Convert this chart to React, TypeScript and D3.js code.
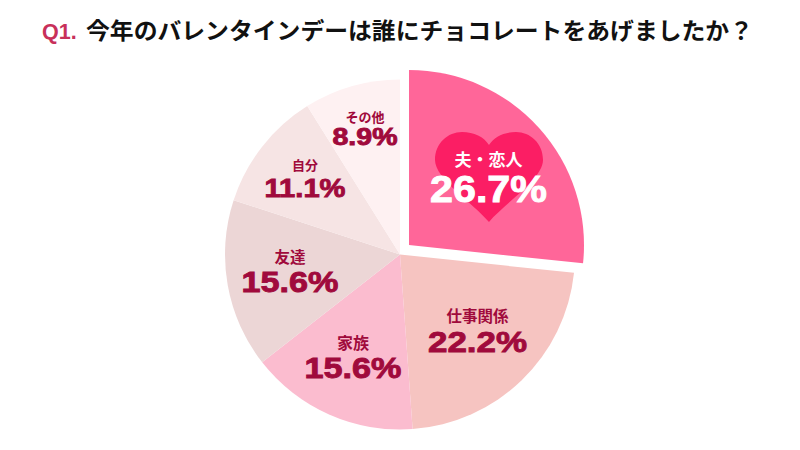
import { useMemo } from 'react';
import * as d3 from 'd3';

const categories = ['夫・恋人', '仕事関係', '家族', '友達', '自分', 'その他'];
const shares = [26.7, 22.2, 15.6, 15.6, 11.1, 8.9];
const sliceColors = ['#ff6699', '#f6c4c1', '#fbbccf', '#ecd6d6', '#f6e4e4', '#fef1f2'];

const numberFont = '"Liberation Sans", sans-serif';
const jpFont = '"Noto Sans CJK JP", sans-serif';
const labelColor = '#a00a3c';
const radius = 175;
const center = { x: 400, y: 254.5 };
const explode = { x: 9, y: -9.5 };

// label layout relative to the pie centre: x centre, name baseline, value baseline
const labelLayout = [
  { dx: 88.5, nameY: -89, valueY: -53, nameSize: 17, valueSize: 37, valueWidth: 117 },
  { dx: 77.5, nameY: 67, valueY: 97, nameSize: 15.5, valueSize: 30, valueWidth: 99 },
  { dx: -47, nameY: 94, valueY: 123.5, nameSize: 16, valueSize: 30, valueWidth: 97 },
  { dx: -110, nameY: 8, valueY: 37, nameSize: 15.5, valueSize: 30, valueWidth: 97 },
  { dx: -95, nameY: -85, valueY: -58, nameSize: 13, valueSize: 25, valueWidth: 81 },
  { dx: -35, nameY: -133, valueY: -109.5, nameSize: 13, valueSize: 24, valueWidth: 65 },
];

const App = () => {
  const arcs = useMemo(() => d3.pie<number>().sort(null)(shares), []);
  const arc = d3.arc<d3.PieArcDatum<number>>().innerRadius(0).outerRadius(radius);

  return (
    <svg
      width={800}
      height={450}
      viewBox="0 0 800 450"
      style={{ position: 'absolute', left: 0, top: 0, background: '#fff' }}
    >
      <text x={42} y={38.5} fontSize={21.5} fontWeight="bold" fill="#c8305a" fontFamily={numberFont}>
        Q1.
      </text>
      <text
        x={86}
        y={39}
        fontSize={23}
        fontWeight="bold"
        fill="#111"
        fontFamily={jpFont}
        textLength={667}
        lengthAdjust="spacingAndGlyphs"
      >
        今年のバレンタインデーは誰にチョコレートをあげましたか？
      </text>

      <g transform={`translate(${center.x},${center.y})`}>
        {arcs.map((d, i) => (
          <path
            key={categories[i]}
            d={arc(d) || ''}
            fill={sliceColors[i]}
            transform={i === 0 ? `translate(${explode.x},${explode.y})` : undefined}
          />
        ))}
        {/* heart behind the top slice label */}
        <path
          transform="translate(89,-77.5)"
          d="M0,45 C-16,26 -54,2 -54,-17 C-54,-34 -41,-45 -27,-45 C-15,-45 -5,-40 0,-32 C5,-40 15,-45 27,-45 C41,-45 54,-34 54,-17 C54,2 16,26 0,45 Z"
          fill="#fb1e64"
        />
        {arcs.map((d, i) => {
          const l = labelLayout[i];
          const color = i === 0 ? '#fff' : labelColor;
          return (
            <g key={categories[i]}>
              <text
                x={l.dx}
                y={l.nameY}
                textAnchor="middle"
                fontSize={l.nameSize}
                fontWeight="bold"
                fontFamily={jpFont}
                fill={color}
              >
                {categories[i]}
              </text>
              <text
                x={l.dx}
                y={l.valueY}
                textAnchor="middle"
                fontSize={l.valueSize}
                fontWeight="bold"
                fontFamily={numberFont}
                fill={color}
                stroke={color}
                strokeWidth={0.9}
                textLength={l.valueWidth}
                lengthAdjust="spacingAndGlyphs"
              >
                {shares[i].toFixed(1)}%
              </text>
            </g>
          );
        })}
      </g>
    </svg>
  );
};

export default App;
